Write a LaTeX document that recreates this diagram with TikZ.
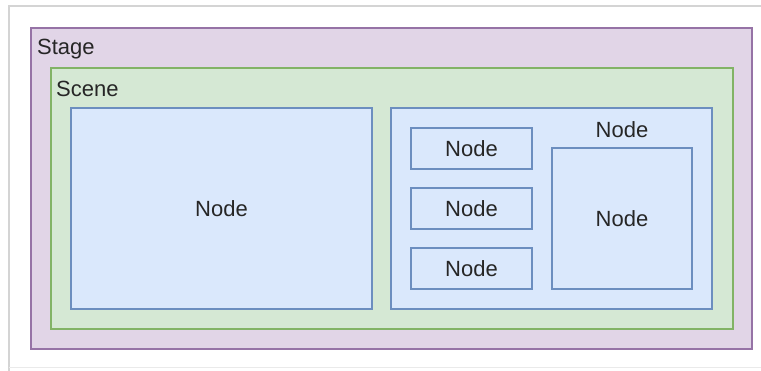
\documentclass[tikz,border=0pt]{standalone}
\usepackage{fontspec}
\setmainfont{Liberation Sans}
\definecolor{stagefill}{HTML}{E1D5E7}
\definecolor{stageline}{HTML}{9673A6}
\definecolor{scenefill}{HTML}{D5E8D4}
\definecolor{sceneline}{HTML}{82B366}
\definecolor{nodefill}{HTML}{DAE8FC}
\definecolor{nodeline}{HTML}{6C8EBF}
\definecolor{framegrey}{HTML}{D4D4D4}
\tikzset{
  box/.style={rectangle, inner sep=0pt, line width=1.3pt},
  stagebox/.style={box, fill=stagefill, draw=stageline},
  scenebox/.style={box, fill=scenefill, draw=sceneline},
  nodebox/.style={box, fill=nodefill, draw=nodeline, font=\fontsize{22}{26}\selectfont, text=black!85},
  lbl/.style={inner sep=0pt, font=\fontsize{22}{26}\selectfont, text=black!85}
}
\begin{document}
\begin{tikzpicture}[x=1pt,y=-1pt]
  \useasboundingbox (0,0) rectangle (761,370);
  \fill[white] (0,0) rectangle (761,370);
  % light frame around the whole drawing
  \draw[framegrey, line width=1.6pt] (770,6) -- (9,6) -- (9,375);
  \draw[framegrey!50, line width=1pt] (9,367) -- (770,367);

  % stage and scene containers
  \node[stagebox, minimum width=721pt, minimum height=321pt] (stage) at (391.5,188.5) {};
  \node[lbl, anchor=west] (stagelbl) at (37,49) {Stage};
  \node[scenebox, minimum width=682pt, minimum height=261pt] (scene) at (392,198.5) {};
  \node[lbl, anchor=west] (scenelbl) at (56,89) {Scene};

  % left node
  \node[nodebox, minimum width=301pt, minimum height=201pt] (left) at (221.5,208.5) {Node};

  % right group node with children
  \node[nodebox, minimum width=321pt, minimum height=201pt] (group) at (551.5,208.5) {};
  \node[lbl] (grouplbl) at (622,130) {Node};
  \node[nodebox, minimum width=121pt, minimum height=41pt] (n1) at (471.5,148.5) {Node};
  \node[nodebox, minimum width=121pt, minimum height=41pt] (n2) at (471.5,208.5) {Node};
  \node[nodebox, minimum width=121pt, minimum height=41pt] (n3) at (471.5,268.5) {Node};
  \node[nodebox, minimum width=140pt, minimum height=141pt] (inner) at (622,218.5) {Node};
\end{tikzpicture}
\end{document}
